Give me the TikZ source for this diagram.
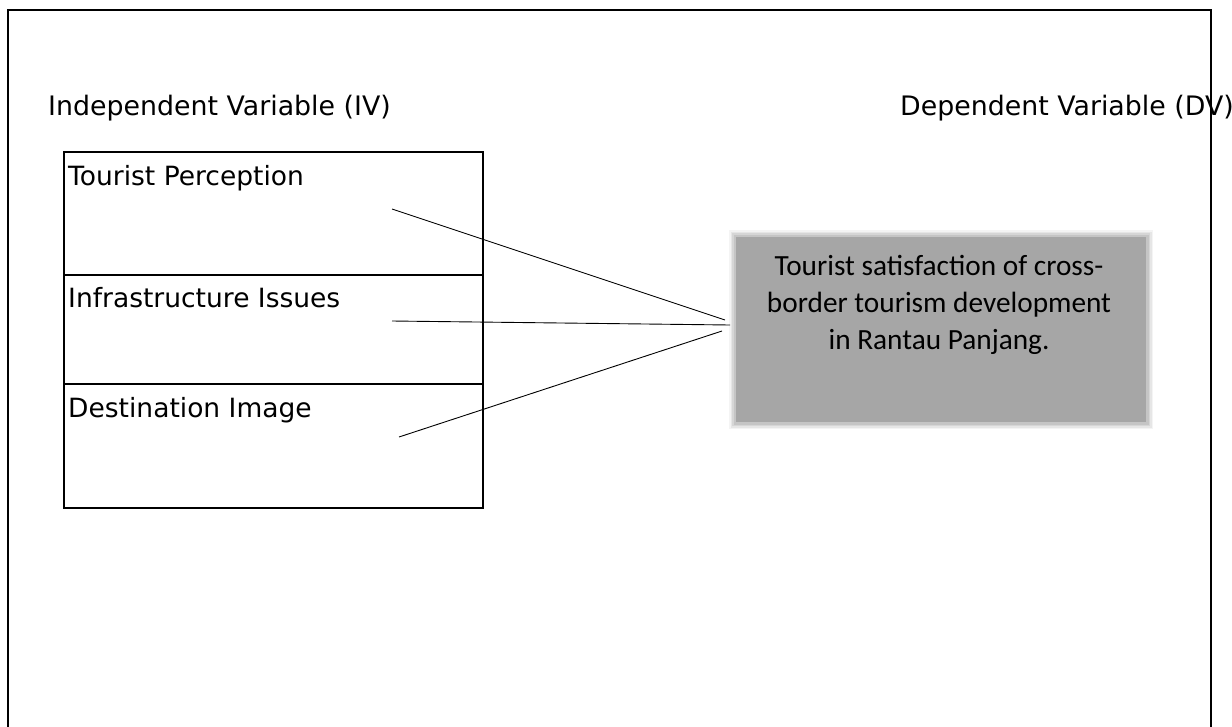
\documentclass[tikz,border=0pt]{standalone}
\usepackage{fontspec}
\setmainfont{DejaVu Sans}
\newfontfamily\carlito{Carlito}
\definecolor{dvgrey}{RGB}{166,166,166}
\tikzset{
  varbox/.style={draw=black, line width=1.6pt, minimum width=419pt, inner sep=0pt, outer sep=0pt},
  boxtext/.style={anchor=base west, inner sep=0pt, font=\fontsize{26.5}{31}\selectfont},
  headtext/.style={anchor=base west, inner sep=0pt, font=\fontsize{26.8}{31}\selectfont},
  link/.style={draw=black, line width=0.9pt},
  frame/.style={draw=black, line width=2.6pt},
}
\begin{document}
\begin{tikzpicture}[x=1pt,y=-1pt]
\useasboundingbox (0,0) rectangle (1232,726);
% outer open frame
\coordinate (f1) at (8,730);
\coordinate (f2) at (8,10);
\coordinate (f3) at (1211,10);
\coordinate (f4) at (1211,730);
\draw[frame] (f1) -- (f2) -- (f3) -- (f4);
% headings
\node[headtext] (iv) at (48,115) {Independent Variable (IV)};
\node[headtext] (dvh) at (900,115) {Dependent Variable (DV)};
% left boxes
\node[varbox, minimum height=123pt] (tp) at (273.5,213.5) {};
\node[varbox, minimum height=109pt] (ii) at (273.5,329.5) {};
\node[varbox, minimum height=124pt] (di) at (273.5,446) {};
\node[boxtext] (tpt) at (68,185) {Tourist Perception};
\node[boxtext] (iit) at (68,307) {Infrastructure Issues};
\node[boxtext] (dit) at (68,417) {Destination Image};
% grey dependent box with soft blurred edge
\foreach \d/\o in {6/0.12,4.5/0.18,3/0.25,1.5/0.35}{
  \fill[dvgrey, opacity=\o] (735-\d,236-\d) rectangle (1147+\d,423+\d);
}
\node[fill=dvgrey, minimum width=410pt, minimum height=185pt, inner sep=0pt] (dv) at (941,329.5) {};
\node[align=center, inner sep=0pt, font=\carlito\fontsize{29.3}{37}\selectfont, anchor=north] (dvt) at (939,255)
  {Tourist satisfaction of cross-\\border tourism development\\in Rantau Panjang.};
% connectors
\coordinate (s1) at (392,209);
\coordinate (s2) at (392,321);
\coordinate (s3) at (399,437);
\coordinate (e1) at (725,320);
\coordinate (e2) at (730,325);
\coordinate (e3) at (722,331);
\draw[link] (s1) -- (e1);
\draw[link] (s2) -- (e2);
\draw[link] (s3) -- (e3);
\end{tikzpicture}
\end{document}
